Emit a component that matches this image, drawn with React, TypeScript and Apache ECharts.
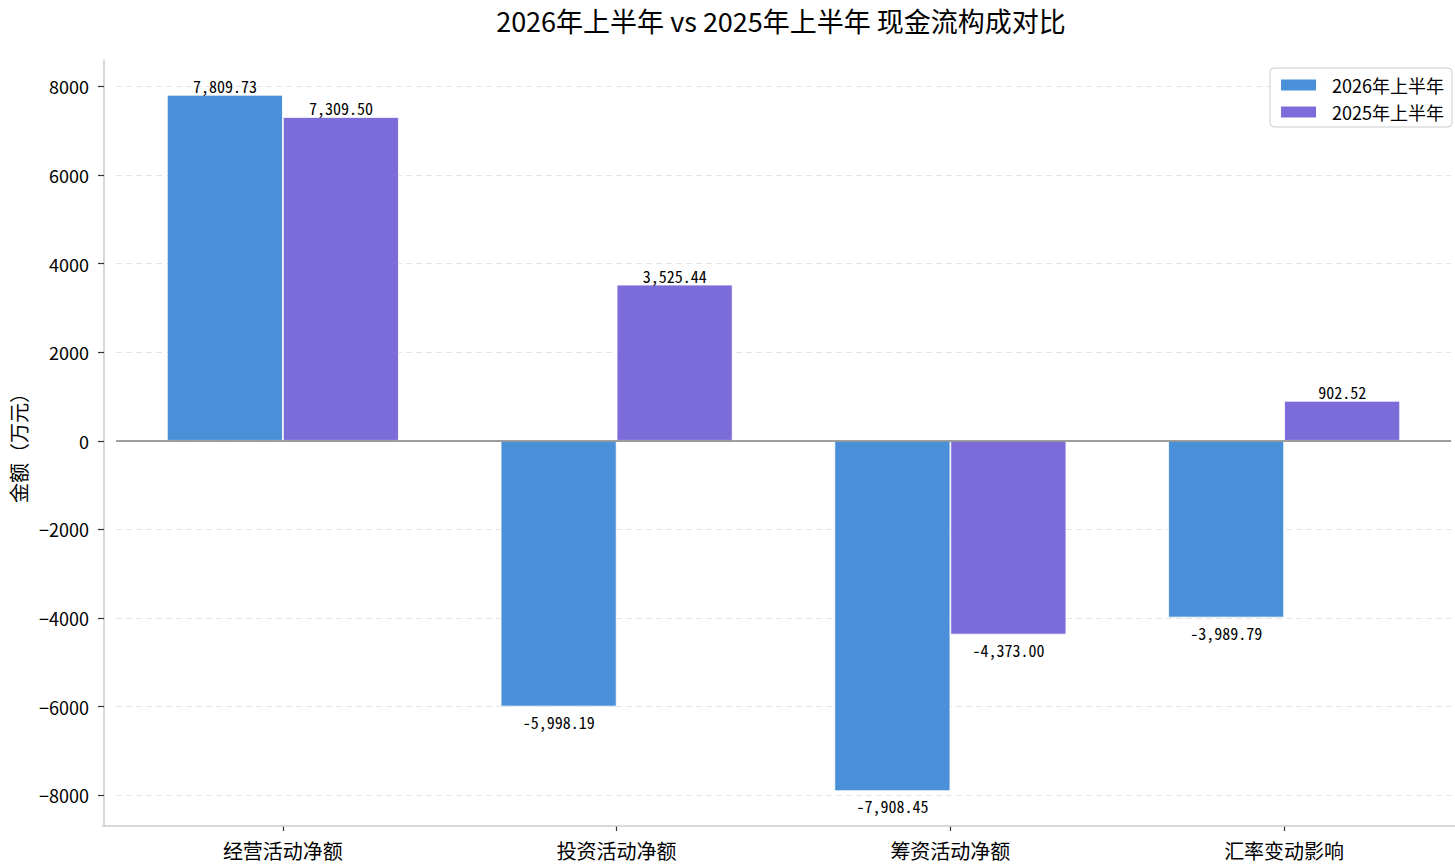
import React, { useEffect, useRef } from "react";
import * as echarts from "echarts";

const categories = ["经营活动净额", "投资活动净额", "筹资活动净额", "汇率变动影响"];
const h2026 = [7809.73, -5998.19, -7908.45, -3989.79];
const h2025 = [7309.5, 3525.44, -4373.0, 902.52];
const seriesNames = ["2026年上半年", "2025年上半年"];
const yTicks = [-8000, -6000, -4000, -2000, 0, 2000, 4000, 6000, 8000];

const CJK = "'Noto Sans CJK SC', 'Noto Sans', sans-serif";
const MONO = "'Noto Sans Mono CJK SC', 'DejaVu Sans Mono', monospace";

const fmt = (v: number) =>
  v.toLocaleString("en-US", { minimumFractionDigits: 2, maximumFractionDigits: 2 });

function buildData(values: number[]) {
  return values.map((v) => ({
    value: v,
    label: {
      position: v >= 0 ? "top" : "bottom",
      distance: v >= 0 ? 1 : 7,
    },
  }));
}

export default function App() {
  const ref = useRef<HTMLDivElement>(null);
  useEffect(() => {
    if (!ref.current) return;
    const chart = echarts.init(ref.current, null, { renderer: "svg" });
    const labelCfg = {
      show: true,
      fontSize: 16,
      fontFamily: MONO,
      color: "#000",
      formatter: (p: any) => fmt(p.value),
    };
    chart.setOption({
      animation: false,
      backgroundColor: "#ffffff",
      textStyle: { fontFamily: CJK },
      grid: { left: 114, right: 4, top: 60, bottom: 39, containLabel: false },
      graphic: [
        {
          type: "text",
          x: 781,
          y: 20,
          style: {
            text: "2026年上半年 vs 2025年上半年 现金流构成对比",
            font: `27px ${CJK}`,
            fill: "#000",
            textAlign: "center",
            textVerticalAlign: "middle",
          },
        },
        {
          type: "line",
          shape: { x1: 102, y1: 826, x2: 1455, y2: 826 },
          style: { stroke: "#cccccc", lineWidth: 1.5 },
          z: 1,
        },
      ],
      legend: {
        orient: "vertical",
        right: 3,
        top: 68,
        icon: "rect",
        itemWidth: 37,
        itemHeight: 13,
        itemGap: 9,
        padding: [8, 8, 6, 9],
        borderColor: "#cccccc",
        borderWidth: 1,
        borderRadius: 4,
        backgroundColor: "rgba(255,255,255,0.8)",
        textStyle: { fontSize: 18, color: "#000", fontFamily: CJK, padding: [0, 0, 0, 10] },
        data: seriesNames,
      },
      xAxis: {
        type: "category",
        data: categories,
        axisLine: { show: false, onZero: false },
        axisTick: { show: true, alignWithLabel: true, length: 5, lineStyle: { color: "#333", width: 1.2 } },
        axisLabel: { fontSize: 20, color: "#000", margin: 14, fontFamily: CJK },
        splitLine: { show: false },
      },
      yAxis: {
        type: "value",
        min: -8694.4,
        max: 8595.6,
        minInterval: 2000,
        maxInterval: 2000,
        offset: 12,
        name: "金额（万元）",
        nameLocation: "middle",
        nameGap: 76,
        nameTextStyle: { fontSize: 20, color: "#000", fontFamily: CJK },
        axisLine: { show: true, lineStyle: { color: "#cccccc", width: 1.5 } },
        axisTick: { show: true, length: 6, customValues: yTicks, lineStyle: { color: "#333", width: 1.2 } },
        axisLabel: {
          fontSize: 18,
          color: "#000",
          margin: 15,
          fontFamily: CJK,
          customValues: yTicks,
          formatter: (v: number) => String(v).replace("-", "−"),
        },
        splitLine: {
          show: true,
          lineStyle: { type: [6, 4], color: "#e4e4e4", width: 1.2 },
        },
      },
      series: [
        {
          name: seriesNames[0],
          type: "bar",
          barWidth: 116,
          barGap: "0%",
          data: buildData(h2026),
          itemStyle: { color: "#4A90D9", borderColor: "#ffffff", borderWidth: 0.8 },
          label: labelCfg,
          markLine: {
            silent: true,
            symbol: "none",
            label: { show: false },
            lineStyle: { color: "#808080", width: 1.5, type: "solid" },
            data: [{ yAxis: 0 }],
          },
        },
        {
          name: seriesNames[1],
          type: "bar",
          barWidth: 116,
          barGap: "0%",
          data: buildData(h2025),
          itemStyle: { color: "#7B6CD9", borderColor: "#ffffff", borderWidth: 0.8 },
          label: labelCfg,
        },
      ],
    });
    return () => chart.dispose();
  }, []);
  return (
    <div
      ref={ref}
      style={{ position: "absolute", left: 0, top: 0, width: 1455, height: 865 }}
    />
  );
}
